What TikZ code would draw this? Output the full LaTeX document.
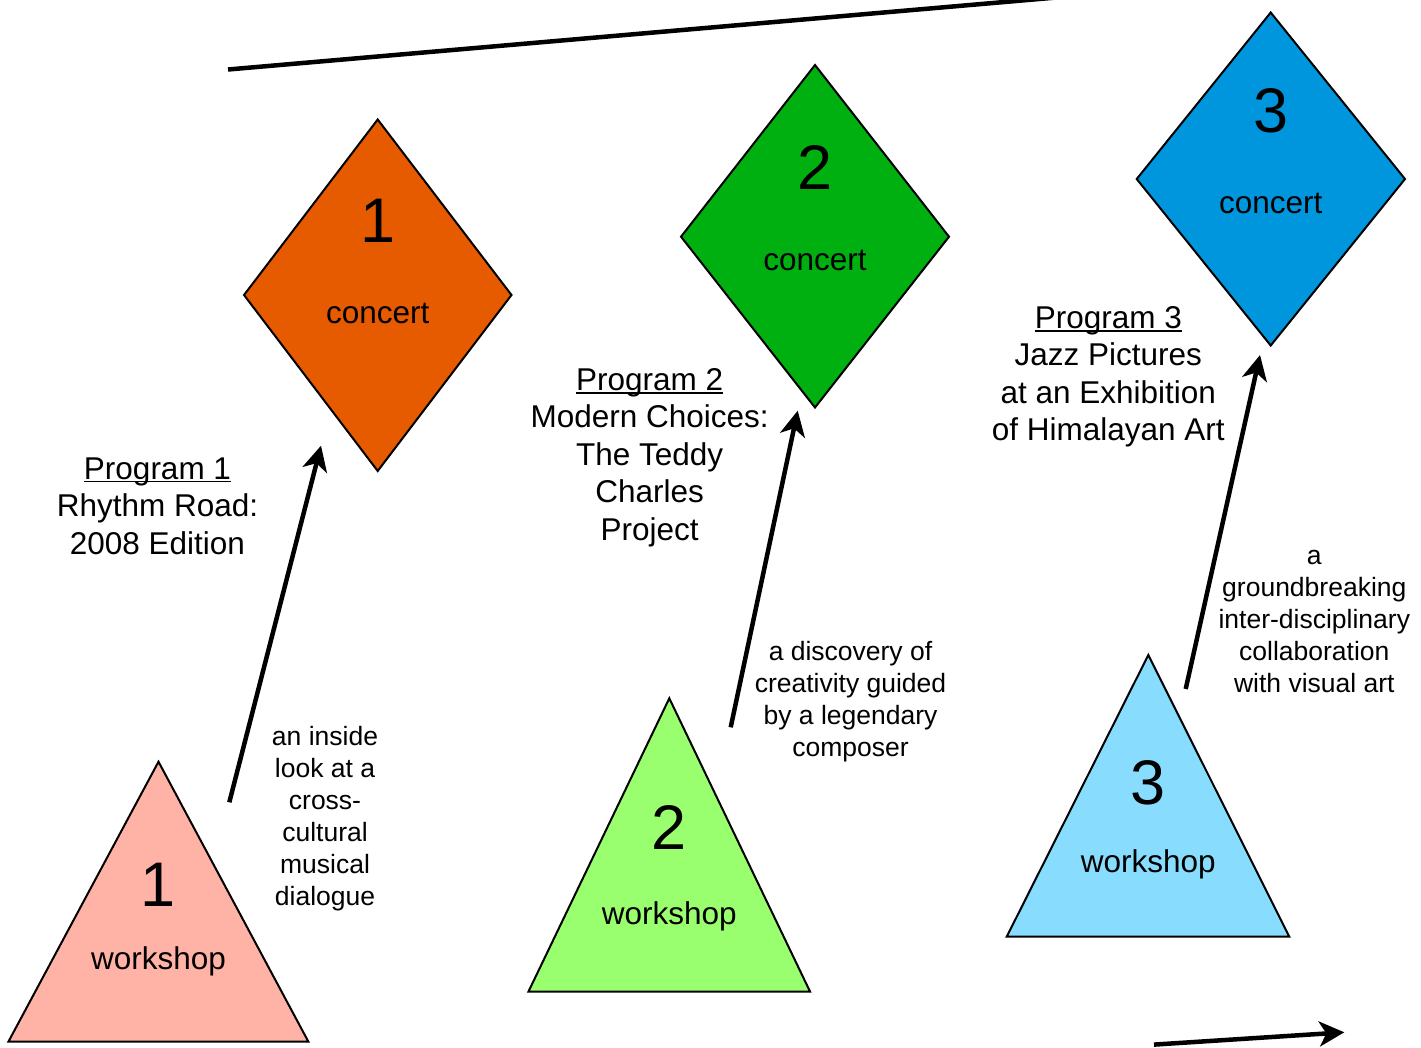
\documentclass[tikz,border=0pt]{standalone}
\usepackage{fontspec}
\setmainfont{Liberation Sans}
\usetikzlibrary{arrows.meta}
\definecolor{tri1}{HTML}{FFB3A7}
\definecolor{dia1}{HTML}{E65A00}
\definecolor{tri2}{HTML}{99FF6E}
\definecolor{dia2}{HTML}{00B010}
\definecolor{tri3}{HTML}{88DDFF}
\definecolor{dia3}{HTML}{0096DE}
\newcommand\myul[1]{\leavevmode\setbox0\hbox{#1}\rlap{\rule[-3.2pt]{\wd0}{1.7pt}}\box0}
\tikzset{
  shapebox/.style={draw=black, line width=2pt, line join=miter},
  bignum/.style={inner sep=0pt, anchor=base, font=\fontsize{63}{70}\selectfont},
  kind/.style={inner sep=0pt, anchor=base, font=\fontsize{31.5}{37.5}\selectfont},
  prog/.style={inner sep=0pt, anchor=base, align=center, font=\fontsize{31.5}{37.4}\selectfont},
  side/.style={inner sep=0pt, anchor=base, align=center, font=\fontsize{26.5}{32}\selectfont},
  conn/.style={line width=4.5pt, -{Stealth[length=25pt,width=25pt,inset=7pt]}},
  plainconn/.style={line width=4.5pt},
}
\begin{document}
\begin{tikzpicture}[x=1pt,y=-1pt]
\useasboundingbox (0,0) rectangle (1421,1047);
% shapes
\path[shapebox, fill=tri1] (158.5,761.7) -- (308.3,1041.5) -- (8.5,1041.5) -- cycle;
\path[shapebox, fill=dia1] (377.7,119.5) -- (511.5,295) -- (377.7,471) -- (244,295) -- cycle;
\path[shapebox, fill=tri2] (669.3,698.3) -- (810,991.5) -- (528.5,991.5) -- cycle;
\path[shapebox, fill=dia2] (815,65) -- (949,236.7) -- (815,407.5) -- (681,236.7) -- cycle;
\path[shapebox, fill=tri3] (1148.3,655) -- (1289.3,936.7) -- (1006.7,936.7) -- cycle;
\path[shapebox, fill=dia3] (1270.7,12.5) -- (1405,179) -- (1270.7,345.5) -- (1136.7,179) -- cycle;
% shape texts
\node[bignum] (t1n) at (158.5,906.7) {1};
\node[kind] (t1k) at (158.5,969.3) {workshop};
\node[bignum] (d1n) at (377.7,242.7) {1};
\node[kind] (d1k) at (377.7,323.3) {concert};
\node[bignum] (t2n) at (669.3,849.3) {2};
\node[kind] (t2k) at (669.3,924) {workshop};
\node[bignum] (d2n) at (815,189.3) {2};
\node[kind] (d2k) at (815,270) {concert};
\node[bignum] (t3n) at (1148.3,804) {3};
\node[kind] (t3k) at (1148.3,872.3) {workshop};
\node[bignum] (d3n) at (1270.7,132.7) {3};
\node[kind] (d3k) at (1270.7,213.3) {concert};
% program labels (anchor = baseline of last line)
\node[prog] (p1) at (157.5,554) {\myul{Program 1}\\Rhythm Road:\\2008 Edition};
\node[prog] (p2) at (649.7,540) {\myul{Program 2}\\Modern Choices:\\The Teddy\\Charles\\Project};
\node[prog] (p3) at (1108.3,440.7) {\myul{Program 3}\\Jazz Pictures\\at an Exhibition\\of Himalayan Art};
% side labels
\node[side] (s1) at (325,905) {an inside\\look at a\\cross-\\cultural\\musical\\dialogue};
\node[side] (s2) at (850.5,756.7) {a discovery of\\creativity guided\\by a legendary\\composer};
\node[side] (s3) at (1314.3,692.5) {a\\groundbreaking\\inter-disciplinary\\collaboration\\with visual art};
% connector ends
\coordinate (a1s) at (229.3,802.3);
\coordinate (a1e) at (321,445.7);
\coordinate (a2s) at (730.7,727.3);
\coordinate (a2e) at (797.7,410.7);
\coordinate (a3s) at (1185.7,689);
\coordinate (a3e) at (1260,355);
\coordinate (tops) at (228,69.5);
\coordinate (tope) at (1100,-6.3);
\coordinate (bots) at (1154,1044.6);
\coordinate (bote) at (1344.3,1032.3);
% connectors
\draw[conn] (a1s) -- (a1e);
\draw[conn] (a2s) -- (a2e);
\draw[conn] (a3s) -- (a3e);
\draw[plainconn] (tops) -- (tope);
\draw[conn] (bots) -- (bote);
\end{tikzpicture}
\end{document}
